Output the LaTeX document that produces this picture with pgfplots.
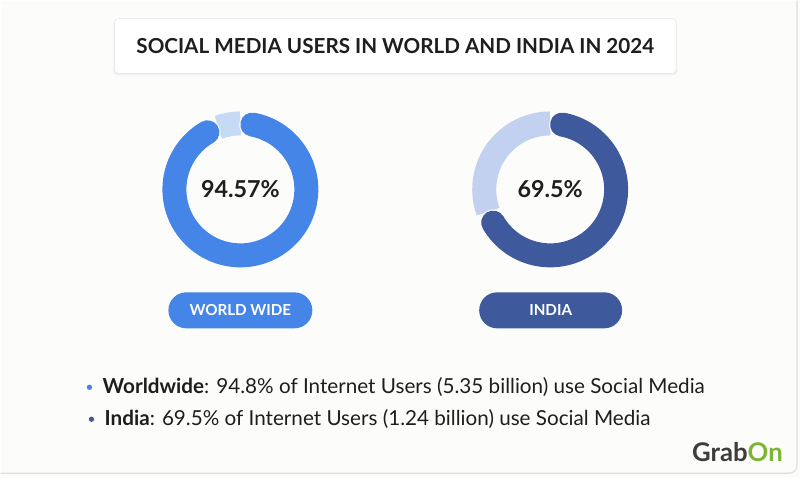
\documentclass[border=0pt]{standalone}
\usepackage{pgfplots}
\usepackage{pgfplotstable}
\pgfplotsset{compat=1.18}
\usepackage{fontspec}
\setmainfont{Lato}
\definecolor{bgc}{HTML}{FCFDFA}
\definecolor{wdark}{HTML}{4585E8}
\definecolor{wlight}{HTML}{C6DAF6}
\definecolor{idark}{HTML}{3F5A9C}
\definecolor{ilight}{HTML}{C3D1F0}
\definecolor{txt}{HTML}{1E1E1E}
\definecolor{grab}{HTML}{3D3D3D}
\definecolor{grabg}{HTML}{7AB534}
\pgfplotstableread{
name value
World 94.57
India 69.5
}\donutdata
\pgfplotstablegetelem{0}{value}\of\donutdata \let\vW\pgfplotsretval
\pgfplotstablegetelem{1}{value}\of\donutdata \let\vI\pgfplotsretval
% pixel -> pt
\def\R{49.5pt}      % centre-line radius (66 px)
\def\LW{18pt}       % ring width (24 px)
\def\CAP{10.4}      % cap angle in degrees
\begin{document}
\begin{tikzpicture}
\begin{axis}[
  x=0.75pt, y=0.75pt,
  xmin=0, xmax=800, ymin=0, ymax=477,
  y dir=reverse,
  hide axis, clip=false,
  scale only axis,
]
% background
\fill[bgc] (axis cs:0,0) rectangle (axis cs:800,477);
\draw[black!13, line width=0.8pt, rounded corners=6pt] (axis cs:0,473) -- (axis cs:797,473) -- (axis cs:797,0);
% title box
\fill[black!6, rounded corners=3pt] (axis cs:113,19) rectangle (axis cs:677,75);
\draw[black!10, fill=white, rounded corners=3pt] (axis cs:114,18) rectangle (axis cs:676,73);
\node[font=\fontsize{15.5}{18}\selectfont\bfseries, text=txt] at (axis cs:395,46) {SOCIAL MEDIA USERS IN WORLD AND INDIA IN 2024};
% World donut
\draw[wlight, line width=\LW] (axis cs:240,189) ++(90:\R) arc[start angle=90, delta angle={360-3.6*\vW}, radius=\R];
\draw[white, line width=\LW+1.6pt, line cap=round] (axis cs:240,189) ++({90-\CAP}:\R) arc[start angle={90-\CAP}, delta angle={-(3.6*\vW-2*\CAP)}, radius=\R];
\draw[wdark, line width=\LW, line cap=round] (axis cs:240,189) ++({90-\CAP}:\R) arc[start angle={90-\CAP}, delta angle={-(3.6*\vW-2*\CAP)}, radius=\R];
\node[font=\fontsize{17.5}{20}\selectfont\bfseries, text=txt] at (axis cs:240,189) {94.57\%};
% India donut
\draw[ilight, line width=\LW] (axis cs:550,189) ++(90:\R) arc[start angle=90, delta angle={360-3.6*\vI}, radius=\R];
\draw[white, line width=\LW+1.6pt, line cap=round] (axis cs:550,189) ++({90-\CAP}:\R) arc[start angle={90-\CAP}, delta angle={-(3.6*\vI-2*\CAP)}, radius=\R];
\draw[idark, line width=\LW, line cap=round] (axis cs:550,189) ++({90-\CAP}:\R) arc[start angle={90-\CAP}, delta angle={-(3.6*\vI-2*\CAP)}, radius=\R];
\node[font=\fontsize{17.5}{20}\selectfont\bfseries, text=txt] at (axis cs:550,189) {69.5\%};
% pills
\fill[wdark, rounded corners=13.4pt] (axis cs:168,292) rectangle (axis cs:312,328);
\node[font=\fontsize{11.4}{13}\selectfont\bfseries, text=white] at (axis cs:240,310) {WORLD WIDE};
\fill[idark, rounded corners=13.4pt] (axis cs:479,292) rectangle (axis cs:622,328);
\node[font=\fontsize{11.4}{13}\selectfont\bfseries, text=white] at (axis cs:550.5,310) {INDIA};
% bullets
\fill[wdark] (axis cs:89,387) circle[radius=2pt];
\node[anchor=west, inner sep=0pt, font=\fontsize{15.5}{18}\selectfont, text=txt] at (axis cs:102,387) {\textbf{Worldwide}: 94.8\% of Internet Users (5.35 billion) use Social Media};
\fill[idark] (axis cs:91,419) circle[radius=2pt];
\node[anchor=west, inner sep=0pt, font=\fontsize{15.5}{18}\selectfont, text=txt] at (axis cs:104,419) {\textbf{India}: 69.5\% of Internet Users (1.24 billion) use Social Media};
% logo
\node[anchor=east, inner sep=0pt, font=\fontsize{19.3}{21}\selectfont\bfseries] at (axis cs:783,452) {\textcolor{grab}{Grab}\textcolor{grabg}{On}};
\end{axis}
\end{tikzpicture}
\end{document}
